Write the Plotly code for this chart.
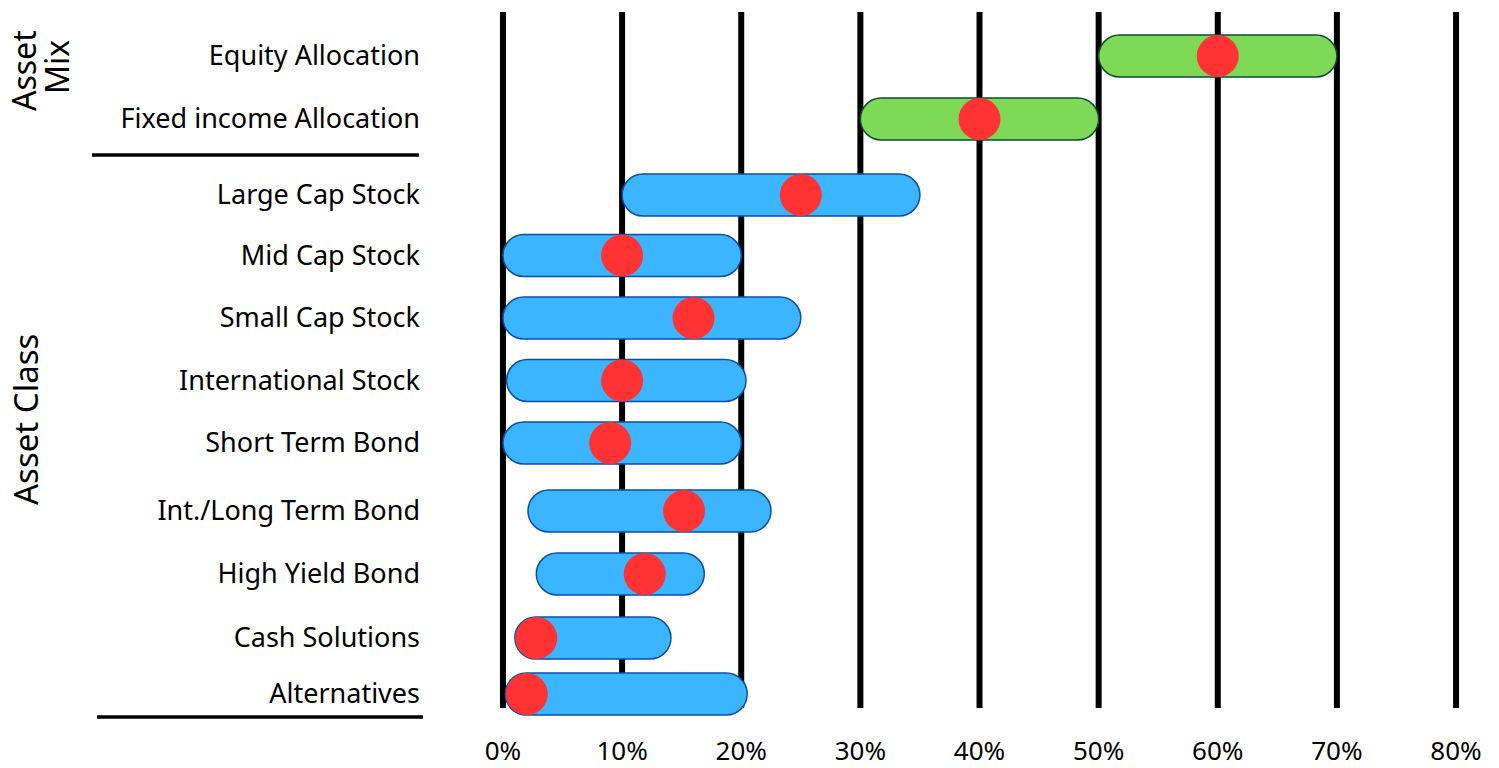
import plotly.graph_objects as go

# ---- data ----
categories = ["Equity Allocation", "Fixed income Allocation", "Large Cap Stock",
              "Mid Cap Stock", "Small Cap Stock", "International Stock",
              "Short Term Bond", "Int./Long Term Bond", "High Yield Bond",
              "Cash Solutions", "Alternatives"]
group = ["mix", "mix", "class", "class", "class", "class", "class", "class", "class", "class", "class"]
range_low = [50, 30, 10, 0, 0, 0.3, 0, 2.1, 2.8, 1.0, 0.2]
range_high = [70, 50, 35, 20, 25, 20.4, 20, 22.5, 16.9, 14.1, 20.5]
target = [60, 40, 25, 10, 16, 10, 9, 15.2, 11.9, 2.8, 2.0]
x_ticks = [0, 10, 20, 30, 40, 50, 60, 70, 80]
x_tick_labels = ["0%", "10%", "20%", "30%", "40%", "50%", "60%", "70%", "80%"]

# ---- layout (row positions on a reversed numeric axis, 1 unit = 1 px) ----
row_pos = [56, 119, 195, 255.5, 318, 380.5, 443, 511, 574, 638, 694]
GRID_TOP, GRID_BOTTOM = 12, 708

FONT = "Noto Sans"
fig = go.Figure()

for g, fill, edge in [("mix", "#7ed957", "#0b4d35"), ("class", "#3bb5ff", "#0a4fa8")]:
    idx = [i for i, gg in enumerate(group) if gg == g]
    fig.add_trace(go.Bar(
        orientation="h",
        y=[row_pos[i] for i in idx],
        base=[range_low[i] for i in idx],
        x=[range_high[i] - range_low[i] for i in idx],
        width=42,
        marker=dict(color=fill, line=dict(color=edge, width=1.5), cornerradius=21),
        hoverinfo="skip",
        showlegend=False,
    ))

fig.add_trace(go.Scatter(
    x=target, y=row_pos, mode="markers",
    marker=dict(size=42, color="#ff3333", line=dict(width=0)),
    cliponaxis=False, hoverinfo="skip", showlegend=False,
))

W, H = 1499, 768
L, R, T, B = 497, 37, 12, 45
pw = W - L - R
ph = H - T - B

def px(x):
    return (x - L) / pw

def py(y):
    return (H - B - y) / ph

shapes = [
    dict(type="line", xref="x", yref="y", x0=t, x1=t, y0=GRID_TOP, y1=GRID_BOTTOM,
         line=dict(color="black", width=6), layer="below")
    for t in x_ticks
]
shapes += [
    dict(type="line", xref="paper", yref="paper", x0=px(92), x1=px(419), y0=py(155), y1=py(155),
         line=dict(color="black", width=3.5)),
    dict(type="line", xref="paper", yref="paper", x0=px(97), x1=px(423), y0=py(717), y1=py(717),
         line=dict(color="black", width=3.5)),
]

fig.update_layout(
    width=W, height=H,
    margin=dict(l=L, r=R, t=T, b=B, pad=0, autoexpand=False),
    paper_bgcolor="white", plot_bgcolor="white",
    barmode="overlay",
    font=dict(family=FONT, color="black"),
    xaxis=dict(
        range=[-0.5, 80.5], tickvals=x_ticks, ticktext=x_tick_labels,
        showgrid=False, zeroline=False, showline=False, ticks="",
        tickfont=dict(size=26, family=FONT, color="black"),
        ticklabelstandoff=10, fixedrange=True, automargin=False,
    ),
    yaxis=dict(
        range=[H - B, T], tickvals=row_pos, ticktext=categories,
        showgrid=False, zeroline=False, showline=False, ticks="",
        tickfont=dict(size=27, family=FONT, color="black"),
        ticklabelstandoff=76, fixedrange=True, automargin=False,
    ),
    shapes=shapes,
    annotations=[
        dict(text="Asset", xref="paper", yref="paper", x=px(23), y=py(71),
             showarrow=False, textangle=-90, font=dict(size=32, family=FONT, color="black"),
             xanchor="center", yanchor="middle"),
        dict(text="Mix", xref="paper", yref="paper", x=px(56), y=py(67),
             showarrow=False, textangle=-90, font=dict(size=32, family=FONT, color="black"),
             xanchor="center", yanchor="middle"),
        dict(text="Asset Class", xref="paper", yref="paper", x=px(25), y=py(420),
             showarrow=False, textangle=-90, font=dict(size=33, family=FONT, color="black"),
             xanchor="center", yanchor="middle"),
    ],
)

fig.write_html("out.html", config={"displayModeBar": False})
